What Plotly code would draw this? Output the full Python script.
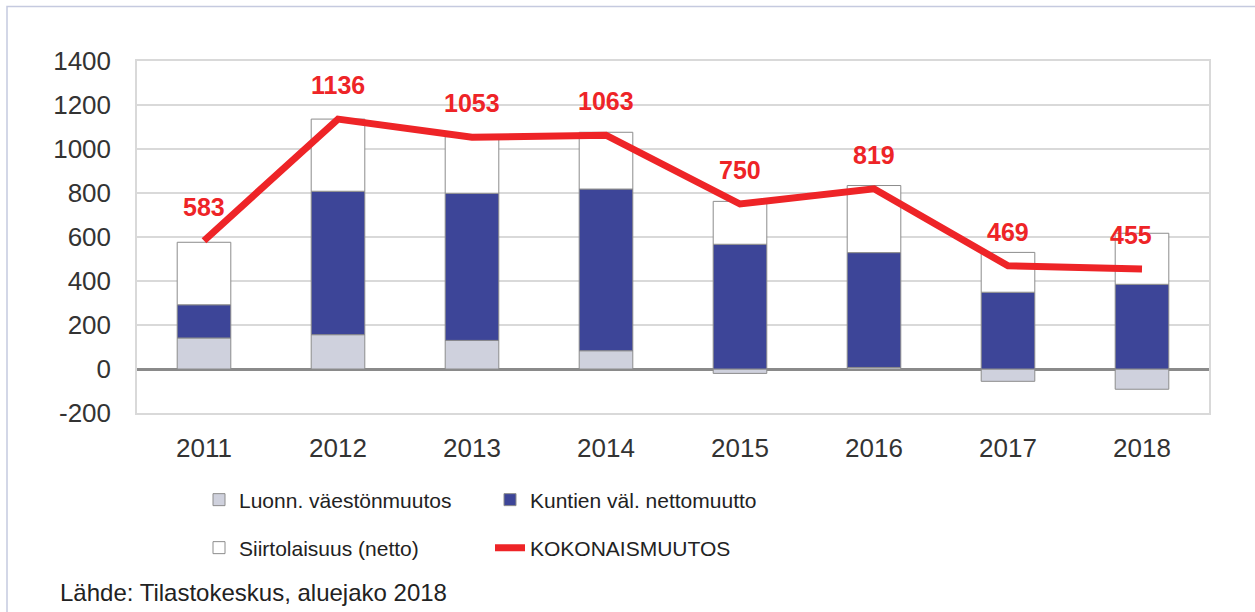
import plotly.graph_objects as go

years = ["2011", "2012", "2013", "2014", "2015", "2016", "2017", "2018"]
luonn = [141, 156, 130, 83, -20, 7, -56, -92]
kuntien = [151, 652, 669, 735, 567, 522, 349, 385]
siirto = [284, 328, 257, 258, 195, 305, 181, 232]
kokonais = [583, 1136, 1053, 1063, 750, 819, 469, 455]
y_ticks = [-200, 0, 200, 400, 600, 800, 1000, 1200, 1400]
y_tick_labels = [str(v) for v in y_ticks]
label_xshift = [0, 0, 0, 0, 0, 0, 0, -11]

names = ["Luonn. väestönmuutos", "Kuntien väl. nettomuutto", "Siirtolaisuus (netto)", "KOKONAISMUUTOS"]
source_text = "Lähde: Tilastokeskus, aluejako 2018"

GRAY = "#cfd1dd"
BLUE = "#3d4598"
RED = "#ee2427"
OUTLINE = "#8c8c8c"
FONT = "Liberation Sans, Arial, sans-serif"
NARROW = "Liberation Sans Narrow, Arial Narrow, Liberation Sans, sans-serif"

W, H = 1255, 612
L, R, T, B = 137, 46, 61, 199
pw = W - L - R
ph = H - T - B

def px(x):
    return (x - L) / pw

def py(y):
    return (H - B - y) / ph

fig = go.Figure()
fig.add_trace(go.Bar(x=years, y=luonn, name=names[0], marker=dict(color=GRAY, line=dict(color=OUTLINE, width=1)), legend="legend"))
fig.add_trace(go.Bar(x=years, y=kuntien, name=names[1], marker=dict(color=BLUE, line=dict(color=OUTLINE, width=1)), legend="legend"))
fig.add_trace(go.Bar(x=years, y=siirto, name=names[2], marker=dict(color="white", line=dict(color=OUTLINE, width=1)), legend="legend2"))
fig.add_trace(go.Scatter(x=years, y=kokonais, name=names[3], mode="lines", line=dict(color=RED, width=7), legend="legend2"))

for i, (v, xs) in enumerate(zip(kokonais, label_xshift)):
    fig.add_annotation(x=i, y=v, text=str(v), showarrow=False, yshift=34, xshift=xs,
                       font=dict(family=FONT, size=25, color=RED, weight="bold"))

fig.add_annotation(xref="paper", yref="paper", x=px(58), y=py(592), xanchor="left", yanchor="middle",
                   text=source_text, showarrow=False, font=dict(family=FONT, size=24, color="#222222"))

fig.add_shape(type="rect", xref="paper", yref="paper", x0=px(7), y0=py(6.5), x1=px(1300), y1=py(700),
              line=dict(color="#c5cadf", width=1.5), fillcolor="rgba(0,0,0,0)", layer="below")

legend_common = dict(orientation="h", xanchor="left", yanchor="middle", entrywidth=246, entrywidthmode="pixels",
                     font=dict(family=NARROW, size=21, color="#222222"), bgcolor="rgba(0,0,0,0)", itemclick=False)

fig.update_layout(
    width=W, height=H,
    margin=dict(l=L, r=R, t=T, b=B),
    barmode="relative",
    bargap=0.6,
    plot_bgcolor="white", paper_bgcolor="white",
    font=dict(family=FONT, size=26, color="#333333"),
    legend=dict(x=px(199), y=py(500), **legend_common),
    legend2=dict(x=px(199), y=py(548), **legend_common),
    xaxis=dict(type="category", range=[-0.5, len(years) - 0.5], showline=True, mirror=True,
               linecolor="#d9d9d9", linewidth=1.5, ticks="",
               tickfont=dict(family=FONT, size=26, color="#333333"), ticklabelstandoff=11),
    yaxis=dict(range=[-200, 1400], tickvals=y_ticks, ticktext=y_tick_labels, showgrid=True,
               gridcolor="#d9d9d9", gridwidth=1.5,
               zeroline=True, zerolinecolor="#8a8a8a", zerolinewidth=2.5,
               showline=True, mirror=True, linecolor="#d9d9d9", linewidth=1.5, ticks="",
               tickfont=dict(family=FONT, size=26, color="#333333"), ticklabelstandoff=19),
)

fig.write_html("out.html", config={"displayModeBar": False},
               post_script="document.body.style.margin='0';")
